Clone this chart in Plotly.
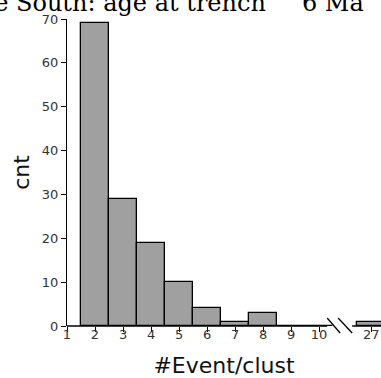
import plotly.graph_objects as go

# ---- data ----
events_per_cluster = [2, 3, 4, 5, 6, 7, 8, 9, 10, 27]
cluster_counts = [69, 29, 19, 10, 4, 1, 3, 0, 0, 1]
x_tick_values = [1, 2, 3, 4, 5, 6, 7, 8, 9, 10, 27]
y_tick_values = [0, 10, 20, 30, 40, 50, 60, 70]
title_text = "Chile South: age at trench\u2002\u02dc\u20026 Ma"

# broken axis: values above BREAK_AT are drawn shifted next to the break
BREAK_AT = 10
BREAK_POS = 11.86


def axis_pos(v):
    return v if v <= BREAK_AT else BREAK_POS + (v - x_tick_values[-1])


bar_x = [axis_pos(v) for v in events_per_cluster]
tick_pos = [axis_pos(v) for v in x_tick_values]
tick_txt = [str(v) for v in x_tick_values]

fig = go.Figure()
fig.add_trace(go.Bar(
    x=bar_x, y=cluster_counts, width=1,
    marker=dict(color="#a0a0a0", line=dict(color="black", width=1.3)),
    showlegend=False, hoverinfo="skip",
))

axis_font = dict(family="DejaVu Sans, sans-serif", size=13, color="#333")
title_font = dict(family="DejaVu Sans, sans-serif", size=22, color="#111")

fig.update_xaxes(
    range=[1, 12.21], tickvals=tick_pos, ticktext=tick_txt,
    ticks="outside", ticklen=5, tickwidth=1, tickcolor="black",
    ticklabelstandoff=-9,
    showline=False, zeroline=False, showgrid=False, tickfont=axis_font,
    title=dict(text="#Event/clust", font=title_font, standoff=18),
)
fig.update_yaxes(
    range=[0, 70], tickvals=y_tick_values,
    ticks="outside", ticklen=5, tickwidth=1, tickcolor="black",
    showline=True, linecolor="black", linewidth=1.3,
    zeroline=False, showgrid=False, tickfont=axis_font,
    title=dict(text="cnt", font=title_font, standoff=6),
)

line_style = dict(color="black", width=1.3)
shapes = [
    dict(type="line", xref="x", yref="paper", x0=0.95, x1=10.29, y0=0, y1=0, line=line_style),
    dict(type="line", xref="x", yref="paper", x0=11.18, x1=12.4, y0=0, y1=0, line=line_style),
    dict(type="line", xref="x", yref="paper", x0=10.29, x1=10.75, y0=0.026, y1=-0.0228, line=line_style),
    dict(type="line", xref="x", yref="paper", x0=10.68, x1=11.18, y0=0.026, y1=-0.0228, line=line_style),
]

fig.update_layout(
    width=381, height=378,
    margin=dict(l=67, r=0, t=19, b=52),
    plot_bgcolor="white", paper_bgcolor="white",
    shapes=shapes,
    annotations=[dict(
        text=title_text, xref="paper", yref="paper",
        x=0.952, y=1.051, xanchor="right", yanchor="middle", showarrow=False,
        font=dict(family="DejaVu Serif, serif", size=24, color="black"),
    )],
    bargap=0,
)

fig.write_html("out.html", config={"displayModeBar": False},
               post_script="document.body.style.margin='0px';")
